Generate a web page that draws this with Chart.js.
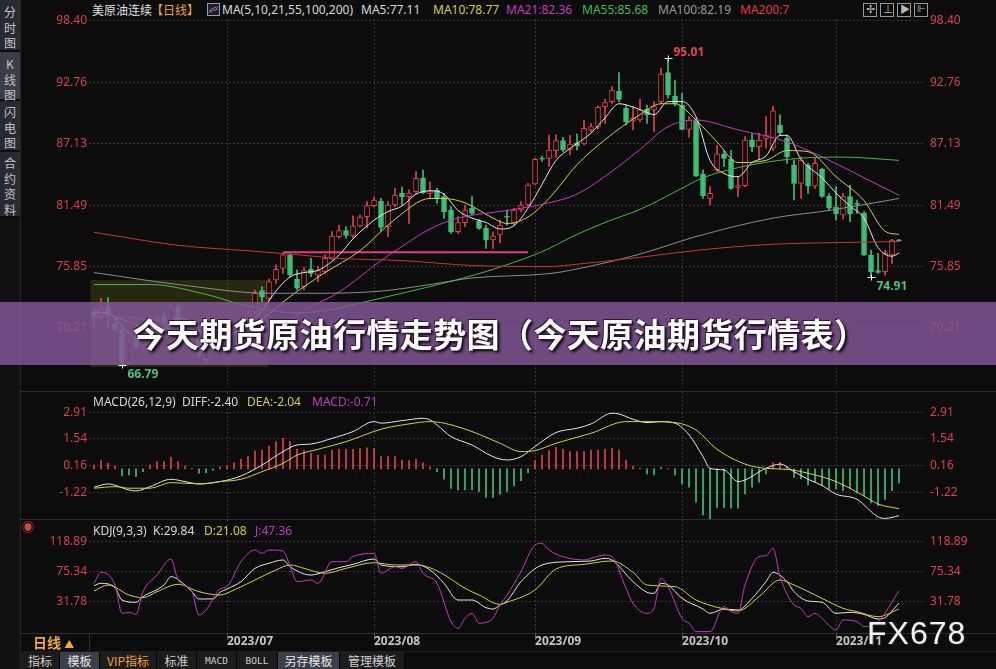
<!DOCTYPE html>
<html>
<head>
<meta charset="utf-8">
<title>美原油连续 日线</title>
<script src="https://cdn.jsdelivr.net/npm/chart.js@4.4.1/dist/chart.umd.min.js"></script>
<style>
  html, body { margin: 0; padding: 0; }
  body {
    width: 996px; height: 669px; overflow: hidden; position: relative;
    background: #0c0c0c; color: #d8d8d8;
    font-family: "Noto Sans", "Noto Sans CJK SC", sans-serif; font-size: 12px;
  }
  .abs { position: absolute; white-space: nowrap; }
  canvas { position: absolute; left: 20px; }
  #mainChart { top: 9px; }
  #macdChart { top: 392px; }
  #kdjChart { top: 520px; }
  .hline { position: absolute; height: 1px; background: #2e2e2e; }
  .vline { position: absolute; width: 1px; background: #2e2e2e; }
  .side { position: absolute; left: 0; width: 20px; background: #272a30; color: #c4c4c4;
          font-family: "Noto Sans CJK SC", sans-serif; font-size: 12px; line-height: 15.5px; text-align: center; }
  .side.on { background: #3a3e46; }
  .hdr { position: absolute; top: 1px; line-height: 17px; white-space: nowrap; }
  .sub { position: absolute; line-height: 15px; white-space: nowrap; }
  .tab { position: absolute; top: 652px; height: 17px; line-height: 17px; text-align: center;
         font-family: "Noto Sans CJK SC", sans-serif; font-size: 12px; color: #cfcfcf;
         border-right: 1px solid #050505; background: #1c1c1c; }
  .tab.sel { background: #3b3f4a; color: #e6e6e6; }
  .tab.mono { font-family: "DejaVu Sans Mono", monospace; font-size: 9.5px; }
  .ico { position: absolute; top: 3px; width: 12px; height: 12px; border: 1px solid #9a9a9a; }
  #banner { position: absolute; left: 0; top: 302px; width: 996px; height: 63px;
            background: rgba(129, 86, 149, 0.85); color: #fff; text-align: center;
            font-family: "Noto Sans CJK SC", sans-serif; font-weight: bold; font-size: 33px;
            line-height: 63px; letter-spacing: 0.4px; padding-left: 4px; box-sizing: border-box;
            text-shadow: 1px 1px 0 #2a1a30, -1px -1px 0 #2a1a30, 2px 2px 3px #000; }
  #wm { position: absolute; left: 867px; top: 617px; font-family: "Liberation Sans", sans-serif;
        font-size: 32px; line-height: 32px; letter-spacing: 1px; color: #f2f2f2;
        text-shadow: 0 0 2px #333, 1px 1px 1px #222; }
</style>
</head>
<body>

<!-- left tool strip -->
<div class="side" style="top:0;height:50px;padding-top:4px;box-sizing:border-box;">分<br>时<br>图</div>
<div class="side on" style="top:52px;height:47px;padding-top:4px;box-sizing:border-box;">K<br>线<br>图</div>
<div class="side" style="top:101px;height:49px;padding-top:3px;box-sizing:border-box;">闪<br>电<br>图</div>
<div class="side" style="top:152px;height:64px;padding-top:3px;box-sizing:border-box;">合<br>约<br>资<br>料</div>
<div class="side" style="top:218px;height:451px;background:#121212;"></div>
<div class="vline" style="left:20px;top:0;height:669px;background:#262626;"></div>

<!-- header of price panel -->
<span class="hdr" style="left:92px;color:#e0e0e0;font-family:'Noto Sans CJK SC',sans-serif;">美原油连续</span>
<span class="hdr" style="left:151px;color:#eaa43a;font-family:'Noto Sans CJK SC',sans-serif;">【日线】</span>
<svg class="abs" style="left:207px;top:3px;" width="13" height="13">
  <rect x="0.5" y="0.5" width="12" height="12" fill="#1c1c2a" stroke="#9a9ab0"/>
  <polyline points="2,10 5,5 8,8 11,3" fill="none" stroke="#e04a4a" stroke-width="1"/>
  <polyline points="2,7 5,9 8,4 11,7" fill="none" stroke="#5a7ae0" stroke-width="1"/>
</svg>
<span class="hdr" style="left:222px;color:#d8d8d8;">MA(5,10,21,55,100,200)</span>
<span class="hdr" style="left:361px;color:#d8d8d8;">MA5:77.11</span>
<span class="hdr" style="left:433px;color:#cfcf3a;">MA10:78.77</span>
<span class="hdr" style="left:506px;color:#c23ac2;">MA21:82.36</span>
<span class="hdr" style="left:582px;color:#3cbf50;">MA55:85.68</span>
<span class="hdr" style="left:658px;color:#9a9a9a;">MA100:82.19</span>
<span class="hdr" style="left:740px;color:#e03c3c;">MA200:7</span>
<div class="ico" style="left:863px;"></div>
<div class="ico" style="left:880px;"></div>
<div class="ico" style="left:897px;"></div>
<div class="ico" style="left:914px;"></div>
<span class="abs" style="left:866px;top:1px;color:#bbb;font-size:11px;">✢</span>
<span class="abs" style="left:883px;top:1px;color:#bbb;font-size:10px;">⊥</span>
<span class="abs" style="left:900px;top:1px;color:#bbb;font-size:10px;">▶</span>
<span class="abs" style="left:917px;top:1px;color:#bbb;font-size:10px;">⊩</span>

<canvas id="mainChart" width="976" height="379"></canvas>
<canvas id="macdChart" width="976" height="127"></canvas>
<canvas id="kdjChart" width="976" height="130"></canvas>

<div class="hline" style="left:20px;top:391px;width:976px;"></div>
<div class="hline" style="left:20px;top:519px;width:976px;"></div>
<div class="hline" style="left:20px;top:633px;width:976px;"></div>
<div class="vline" style="left:89px;top:633px;height:19px;"></div>

<!-- sub panel headers -->
<span class="sub" style="left:93px;top:394px;color:#d8d8d8;">MACD(26,12,9)</span>
<span class="sub" style="left:182px;top:394px;color:#d8d8d8;">DIFF:-2.40</span>
<span class="sub" style="left:247px;top:394px;color:#cfcf3a;">DEA:-2.04</span>
<span class="sub" style="left:312px;top:394px;color:#c23ac2;">MACD:-0.71</span>
<span class="abs" style="left:22px;top:518px;color:#d04444;font-size:12px;">◉</span>
<span class="sub" style="left:93px;top:523px;color:#d8d8d8;">KDJ(9,3,3)</span>
<span class="sub" style="left:153px;top:523px;color:#d8d8d8;">K:29.84</span>
<span class="sub" style="left:204px;top:523px;color:#cfcf3a;">D:21.08</span>
<span class="sub" style="left:255px;top:523px;color:#c23ac2;">J:47.36</span>

<!-- period selector and tab bar -->
<span class="abs" style="left:33px;top:633px;color:#f0a838;font-family:'Noto Sans CJK SC',sans-serif;font-size:14px;font-weight:bold;line-height:19px;">日线 <span style="font-size:10px;">▲</span></span>
<div class="hline" style="left:20px;top:651px;width:976px;background:#1a1a1a;"></div>
<div class="tab" style="left:21px;width:38px;">指标</div>
<div class="tab sel" style="left:60px;width:39px;">模板</div>
<div class="tab" style="left:100px;width:56px;color:#f0a030;">VIP指标</div>
<div class="tab" style="left:157px;width:39px;">标准</div>
<div class="tab mono" style="left:197px;width:39px;">MACD</div>
<div class="tab mono" style="left:237px;width:40px;">BOLL</div>
<div class="tab sel" style="left:278px;width:61px;">另存模板</div>
<div class="tab" style="left:340px;width:64px;">管理模板</div>

<div id="banner">今天期货原油行情走势图（今天原油期货行情表）</div>
<div id="wm">FX678</div>

<script>
// candle index 0 is the first daily bar (early June 2023)
const opens = [
  71.65, 71.25, 72.10, 70.64, 70.03, 67.02, 69.11, 68.65, 70.33, 70.90,
  71.19, 70.79, 72.17, 70.64, 69.41, 69.17, 67.30, 69.11, 69.57, 70.18,
  69.80, 70.40, 71.10, 71.71, 73.64, 72.93, 74.62, 75.69, 76.92, 74.70,
  74.00, 75.60, 75.08, 75.38, 76.52, 78.60, 79.15, 78.66, 79.58, 80.44,
  81.45, 81.84, 79.51, 81.50, 82.57, 82.27, 82.73, 83.95, 82.57, 82.88,
  82.27, 81.04, 79.05, 79.88, 81.20, 80.03, 79.36, 78.29, 78.75, 80.45,
  79.82, 81.04, 81.50, 83.43, 85.80, 85.79, 86.49, 87.41, 86.60, 87.16,
  87.10, 88.39, 88.70, 90.53, 90.99, 91.97, 90.38, 89.22, 89.31, 90.29,
  90.23, 90.99, 93.65, 91.51, 90.68, 88.45, 89.25, 84.35, 82.11, 84.72,
  86.19, 85.70, 83.12, 83.28, 87.47, 86.86, 87.62, 86.71, 88.85, 87.62,
  85.17, 83.49, 85.17, 83.25, 84.78, 82.33, 81.29, 80.58, 82.27, 81.62,
  80.74, 76.91, 75.47, 75.38, 76.91, 78.30
];
const highs = [
  72.02, 72.93, 73.00, 71.00, 70.30, 69.20, 69.60, 69.90, 71.30, 71.30,
  71.60, 72.30, 72.50, 71.00, 70.30, 69.50, 69.30, 69.80, 70.60, 70.50,
  70.30, 71.20, 71.90, 73.70, 74.00, 74.70, 76.00, 77.07, 77.00, 75.54,
  75.78, 76.61, 75.84, 76.92, 79.06, 79.67, 79.52, 80.50, 80.59, 81.81,
  82.20, 82.12, 81.81, 83.03, 83.18, 82.89, 84.56, 84.71, 83.64, 83.03,
  82.57, 81.35, 80.43, 81.50, 82.27, 80.18, 79.66, 79.05, 80.12, 81.04,
  81.20, 81.81, 83.49, 85.79, 86.00, 87.93, 87.93, 87.71, 87.90, 88.02,
  89.31, 89.00, 90.60, 91.20, 92.37, 93.65, 90.68, 90.53, 91.20, 90.68,
  90.99, 94.05, 95.01, 92.98, 91.76, 89.61, 89.46, 84.72, 83.19, 87.01,
  86.52, 86.52, 84.10, 87.78, 88.08, 88.08, 89.61, 90.59, 89.77, 87.93,
  85.63, 85.94, 85.33, 85.79, 84.87, 82.57, 83.19, 82.57, 83.34, 81.96,
  80.89, 77.37, 77.06, 77.37, 78.35, 78.35
];
const lows = [
  70.33, 70.94, 70.20, 69.90, 66.79, 66.90, 68.20, 68.30, 70.00, 70.60,
  70.40, 70.50, 70.60, 69.50, 69.10, 67.50, 67.00, 68.90, 69.30, 69.40,
  69.60, 70.20, 70.90, 71.50, 72.60, 72.70, 74.31, 75.23, 74.93, 73.70,
  73.70, 74.93, 74.47, 75.23, 76.46, 78.45, 78.45, 78.45, 79.50, 79.40,
  81.35, 79.10, 78.60, 81.35, 81.50, 79.82, 82.58, 82.57, 82.11, 81.65,
  80.28, 78.90, 78.90, 79.51, 80.58, 79.27, 77.52, 77.52, 78.04, 79.66,
  79.66, 80.90, 81.35, 83.34, 85.50, 85.02, 85.88, 86.40, 86.10, 86.55,
  87.01, 88.20, 88.50, 89.00, 90.84, 90.99, 88.85, 88.39, 89.15, 89.00,
  88.24, 90.84, 91.30, 90.59, 88.39, 87.72, 84.10, 82.11, 81.50, 84.56,
  85.02, 82.94, 82.27, 83.19, 86.40, 85.63, 86.71, 86.50, 87.93, 85.33,
  81.96, 82.11, 82.57, 83.03, 82.20, 81.04, 80.12, 80.19, 79.97, 80.74,
  76.85, 74.91, 75.23, 75.07, 76.14, 78.15
];
const closes = [
  71.19, 72.02, 71.50, 70.09, 67.12, 68.96, 68.49, 69.41, 70.94, 71.10,
  70.64, 72.02, 70.94, 69.72, 70.03, 67.73, 68.80, 69.41, 70.33, 69.72,
  70.10, 71.00, 71.56, 73.39, 73.03, 74.46, 75.60, 76.92, 75.08, 73.86,
  75.48, 75.23, 75.48, 76.61, 78.66, 79.15, 78.72, 79.58, 80.40, 81.45,
  81.96, 79.45, 81.50, 82.42, 82.27, 82.60, 83.95, 82.63, 82.82, 82.11,
  80.89, 79.05, 79.88, 81.04, 80.74, 79.36, 78.29, 78.65, 79.66, 80.38,
  81.04, 81.50, 83.34, 85.70, 85.70, 86.55, 87.41, 86.55, 87.10, 86.92,
  88.54, 88.70, 90.47, 90.90, 92.06, 91.20, 89.15, 89.46, 90.23, 89.77,
  90.53, 93.53, 91.60, 90.84, 88.45, 89.31, 84.17, 82.33, 82.57, 86.19,
  85.79, 83.03, 83.28, 87.47, 86.86, 87.47, 87.93, 90.16, 88.14, 85.94,
  83.49, 85.63, 83.25, 85.33, 82.30, 81.20, 80.68, 82.27, 80.68, 81.56,
  76.91, 75.38, 75.32, 77.06, 78.29, 78.20
];

const monthIdx = [19, 40, 63, 84, 106];
const monthLabels = ['2023/07', '2023/08', '2023/09', '2023/10', '2023/11'];

const priceTicks = [70.21, 75.85, 81.49, 87.13, 92.76, 98.40];
const macdTicks = [-1.22, 0.16, 1.54, 2.91];
const kdjTicks = [31.78, 75.34, 118.89];

// moving averages as [candle index, value]
const ma5 = [[0,71.6],[2,71.6],[4,70.4],[6,69.2],[8,69.0],[10,70.1],[12,71.1],[14,70.7],[16,69.4],[18,69.2],
  [20,69.7],[22,70.5],[24,71.8],[26,73.6],[28,74.9],[30,75.3],[32,75.5],[35,76.9],[37,78.4],[40,80.1],
  [42,80.9],[44,81.4],[46,82.5],[48,82.8],[50,82.5],[52,81.0],[54,80.3],[56,79.9],[58,79.3],[60,79.6],
  [62,81.2],[64,83.4],[66,85.6],[68,86.7],[71,88.1],[73,89.5],[75,90.8],[77,90.5],[79,90.0],[80,89.8],
  [82,91.0],[84,91.0],[86,89.6],[88,85.6],[90,84.4],[92,84.1],[94,85.4],[96,86.0],[98,87.9],[99,87.9],
  [101,85.7],[104,84.0],[106,82.6],[108,81.4],[110,80.3],[112,77.6],[114,76.8],[115,77.1]];
const ma10 = [[0,71.9],[4,71.0],[9,70.1],[14,70.4],[19,69.8],[24,71.0],[27,72.6],[30,74.0],[33,75.3],[38,77.3],
  [43,80.2],[48,82.1],[50,82.1],[53,81.7],[57,80.3],[59,79.8],[62,80.4],[65,82.1],[69,85.2],[73,87.5],
  [78,89.8],[81,90.8],[83,90.8],[86,89.3],[89,87.3],[92,85.4],[96,85.6],[99,86.5],[102,86.4],[106,84.1],
  [110,81.9],[113,79.1],[115,78.8]];
const ma21 = [[0,71.4],[6,71.1],[12,70.6],[18,70.0],[24,70.3],[28,70.9],[30,71.8],[35,73.5],[41,76.4],[44,77.7],
  [48,79.3],[52,80.3],[59,81.0],[65,81.7],[69,82.5],[74,84.6],[78,86.6],[82,88.7],[86,89.3],[92,88.4],
  [99,87.3],[106,85.3],[110,84.0],[115,82.4]];
const ma55 = [[0,74.2],[8,74.2],[16,73.3],[22,72.2],[29,71.6],[34,71.9],[38,72.5],[44,73.4],[51,74.5],[58,75.8],
  [65,77.5],[68,78.5],[73,79.9],[78,81.1],[83,82.7],[87,84.0],[94,85.2],[101,85.8],[107,85.9],[115,85.6]];
const ma100 = [[0,75.3],[12,74.2],[25,73.4],[33,73.4],[41,73.6],[48,74.2],[54,74.8],[65,75.2],[68,75.5],[78,77.0],
  [86,78.6],[97,80.3],[105,81.0],[115,82.1]];
const ma200 = [[0,79.0],[12,77.8],[22,77.3],[28,77.0],[35,76.6],[44,76.4],[54,75.95],[65,75.85],[68,76.0],[78,76.7],
  [87,77.4],[97,77.9],[106,78.05],[115,78.15]];

// MACD histogram, one bar per candle
const macdBars = [
  0.21, 0.43, 0.29, 0.15, -0.36, -0.31, -0.39, -0.14, 0.21, 0.38,
  0.38, 0.60, 0.38, 0.15, 0.03, -0.22, -0.19, -0.08, 0.11, 0.15,
  0.32, 0.49, 0.63, 0.92, 0.97, 1.18, 1.40, 1.57, 1.40, 1.01,
  0.94, 0.80, 0.71, 0.71, 0.97, 1.01, 1.01, 1.01, 1.04, 1.08,
  1.06, 0.63, 0.63, 0.63, 0.46, 0.43, 0.49, 0.32, 0.11, -0.14,
  -0.53, -1.00, -1.08, -1.08, -1.08, -1.16, -1.46, -1.46, -1.29, -1.16,
  -0.87, -0.60, -0.19, 0.43, 0.71, 0.94, 1.11, 1.01, 0.89, 0.89,
  0.89, 0.97, 0.97, 1.01, 1.06, 0.97, 0.46, 0.15, 0.05, -0.26,
  -0.31, 0.09, 0.02, -0.31, -0.77, -0.94, -1.71, -2.36, -2.57, -1.97,
  -1.97, -2.02, -2.02, -1.28, -0.94, -0.68, -0.26, 0.31, 0.34, 0.14,
  -0.43, -0.51, -0.82, -0.65, -0.86, -1.03, -1.03, -1.11, -1.03, -1.23,
  -1.37, -1.75, -1.88, -1.57, -1.11, -0.72
];
const diffLine = [[0,-0.94],[2,-0.77],[5,-1.08],[6,-1.13],[8,-0.91],[11,-0.53],[13,-0.65],[15,-0.77],[18,-0.65],[21,-0.36],
  [24,0.20],[27,0.89],[29,1.23],[31,1.28],[34,1.57],[37,1.92],[40,2.43],[41,2.35],[44,2.48],[47,2.60],
  [48,2.52],[49,2.26],[51,1.66],[54,1.23],[57,0.63],[59,0.46],[61,0.63],[63,1.15],[66,1.87],[69,2.09],
  [71,2.31],[74,2.86],[75,2.82],[77,2.55],[79,2.38],[81,2.43],[83,2.35],[85,1.75],[87,0.63],[88,0.03],
  [90,-0.05],[92,-0.65],[96,0.03],[98,0.25],[100,-0.14],[102,-0.53],[104,-0.85],[106,-1.29],[109,-1.56],[112,-2.46],
  [113,-2.54],[115,-2.40]];
const deaLine = [[0,-0.99],[3,-0.91],[5,-0.99],[8,-0.99],[11,-0.70],[15,-0.77],[18,-0.65],[21,-0.53],[24,-0.14],[27,0.29],
  [29,0.71],[32,1.01],[36,1.40],[41,2.04],[45,2.31],[48,2.43],[50,2.35],[54,1.92],[58,1.32],[61,0.89],
  [63,0.94],[66,1.32],[71,1.83],[76,2.43],[79,2.43],[83,2.38],[86,2.00],[89,1.01],[93,0.25],[96,0.03],
  [99,-0.02],[102,-0.22],[106,-0.65],[110,-1.39],[112,-1.80],[115,-2.04]];

// KDJ lines
const kLine = [[0,55.1],[1,58.4],[3,52.2],[4,34.2],[6,30.9],[7,39.1],[10,56.0],[11,68.1],[13,56.0],[14,46.3],
  [15,35.7],[17,35.7],[18,45.4],[19,50.2],[21,60.9],[23,80.2],[25,87.5],[27,92.3],[28,82.6],[31,70.5],
  [33,75.4],[35,81.2],[37,86.0],[40,93.8],[41,85.1],[44,82.6],[46,86.0],[48,77.8],[50,58.4],[52,34.2],
  [54,34.2],[56,23.1],[57,21.0],[58,27.0],[59,33.0],[61,60.9],[64,85.1],[68,89.9],[71,90.9],[73,94.7],
  [74,92.3],[77,60.9],[79,45.4],[80,43.9],[81,58.4],[82,56.0],[84,36.6],[87,21.2],[88,14.9],[90,21.2],
  [92,19.7],[94,36.6],[96,60.9],[97,74.4],[99,60.9],[100,46.3],[102,32.8],[104,30.9],[106,14.9],[108,16.3],
  [110,13.4],[112,6.6],[113,8.6],[115,29.8]];
const dLine = [[0,47.3],[2,56.0],[5,41.5],[7,37.6],[9,46.3],[12,57.0],[15,46.3],[18,41.5],[20,48.8],[23,63.3],
  [26,77.8],[28,85.1],[30,80.2],[33,73.0],[36,80.2],[40,88.4],[43,85.1],[46,85.1],[48,81.0],[50,71.0],
  [53,51.2],[55,41.5],[58,27.9],[59,30.9],[63,48.8],[66,79.2],[70,86.0],[74,90.9],[77,74.4],[79,56.0],
  [83,53.6],[86,34.2],[90,21.2],[92,18.3],[95,39.1],[98,63.3],[100,56.0],[104,36.6],[107,22.1],[109,17.3],
  [112,10.0],[115,21.1]];
const jLine = [[0,58.4],[1,74.4],[3,56.0],[4,14.9],[5,16.3],[6,13.4],[7,46.3],[9,70.5],[11,93.8],[12,63.3],
  [14,46.3],[15,12.5],[16,19.7],[18,50.2],[19,53.6],[21,89.9],[23,106.8],[24,102.0],[25,106.8],[27,105.4],
  [28,84.1],[29,60.9],[31,63.3],[32,58.4],[34,89.9],[36,89.9],[37,97.2],[40,102.0],[41,73.0],[43,82.6],
  [44,80.2],[46,89.9],[47,73.0],[49,58.4],[51,2.8],[52,-6.9],[53,7.6],[54,14.9],[55,0.4],[56,1.8],
  [57,7.6],[58,27.0],[59,41.5],[61,75.4],[63,114.1],[64,116.5],[65,106.8],[67,97.2],[70,92.3],[71,94.7],
  [73,99.6],[74,97.2],[76,51.2],[77,29.4],[79,14.9],[80,22.1],[81,65.7],[82,53.6],[84,7.6],[85,0.4],
  [86,-11.7],[88,-11.7],[90,24.6],[91,17.3],[92,14.9],[93,56.0],[95,97.2],[96,98.6],[97,109.3],[98,68.1],
  [100,27.0],[101,22.1],[102,10.0],[103,14.9],[104,7.6],[106,-9.3],[107,5.2],[109,2.8],[110,-4.5],[112,2.8],
  [115,47.4]];

// objects drawn on the price panel
const highlightBox = [-0.5, 24.9, 66.63, 74.62];   // index from, index to, price low, price high
const trendLine = [[27, 77.16], [62, 77.16]];
const highMarks = [82];        // candles whose high is labelled
const lowMarks = [4, 111];     // candles whose low is labelled

const UP = '#e2414b', DOWN = '#3dbf77', BG = '#0c0c0c';
const WHITE = '#e6e6e6', YELLOW = '#d2d040', MAGENTA = '#c03cc0';

Chart.defaults.font.family = '"Noto Sans", "Noto Sans CJK SC", sans-serif';
Chart.defaults.font.size = 12;

const idx = closes.map((_, i) => i);
const isUp = i => closes[i] >= opens[i];
const pts = pairs => pairs.map(([x, y]) => ({ x, y }));

// keep the plot area exactly where the panels are: no label padding
function noPad(s) {
  s.paddingTop = 0; s.paddingBottom = 0; s.paddingLeft = 0; s.paddingRight = 0;
}

function xAxis(labels) {
  return {
    type: 'linear', min: -0.714, max: 118.71, offset: false,
    afterBuildTicks: s => { s.ticks = monthIdx.map(v => ({ value: v })); },
    afterFit: s => { s.height = labels ? 17 : 0; noPad(s); },
    grid: { offset: false, color: '#363636', drawTicks: labels, tickLength: 7, tickColor: '#5a5a5a' },
    border: { display: false, dash: [2, 2] },
    ticks: {
      display: labels, autoSkip: false, maxRotation: 0, align: 'start', padding: -6,
      color: '#c4c4c4', font: { size: 12, weight: 'bold' },
      callback: (v, i) => monthLabels[i]
    }
  };
}

function yAxis(pos, min, max, ticks) {
  const left = pos === 'left';
  return {
    type: 'linear', position: pos, min, max, beginAtZero: false,
    afterBuildTicks: s => { s.ticks = ticks.map(v => ({ value: v })); },
    afterFit: s => { s.width = left ? 69 : 71; noPad(s); },
    grid: { display: left, color: '#363636', drawTicks: false },
    border: { display: false, dash: [2, 2] },
    ticks: { color: '#d8404b', padding: left ? 2 : 5, autoSkip: false, callback: v => v.toFixed(2) }
  };
}

function line(pairs, color, width) {
  return {
    type: 'line', data: pts(pairs), borderColor: color, borderWidth: width || 1,
    pointRadius: 0, cubicInterpolationMode: 'monotone', order: 2
  };
}

function options(scales, padTop) {
  return {
    responsive: false, animation: false, devicePixelRatio: 1,
    layout: { padding: { top: padTop || 0 } },
    plugins: { legend: { display: false }, tooltip: { enabled: false } },
    scales
  };
}

const boxPlugin = {
  id: 'box',
  beforeDatasetsDraw(chart) {
    const { ctx, scales: { x, y } } = chart;
    const [i0, i1, p0, p1] = highlightBox;
    const left = x.getPixelForValue(i0), top = y.getPixelForValue(p1);
    ctx.save();
    ctx.fillStyle = 'rgba(105, 105, 25, 0.3)';
    ctx.fillRect(left, top, x.getPixelForValue(i1) - left, y.getPixelForValue(p0) - top);
    ctx.restore();
  }
};

const markPlugin = {
  id: 'marks',
  afterDatasetsDraw(chart) {
    const { ctx, scales: { x, y } } = chart;
    const mark = (i, price, color, dy) => {
      const px = Math.round(x.getPixelForValue(i)) + 0.5;
      const py = Math.round(y.getPixelForValue(price)) + 0.5;
      ctx.strokeStyle = '#f0f0f0';
      ctx.lineWidth = 1;
      ctx.beginPath();
      ctx.moveTo(px - 4, py); ctx.lineTo(px + 4, py);
      ctx.moveTo(px, py - 3); ctx.lineTo(px, py + 3);
      ctx.stroke();
      ctx.fillStyle = color;
      ctx.font = 'bold 12px "Noto Sans", sans-serif';
      ctx.textBaseline = 'middle';
      ctx.textAlign = 'left';
      ctx.fillText(price.toFixed(2), px + 5, py + dy);
    };
    ctx.save();
    highMarks.forEach(i => mark(i, highs[i], '#e8434f', -6));
    lowMarks.forEach(i => mark(i, lows[i], '#4cc27b', 9));
    ctx.restore();
  }
};

// price panel (canvas starts 10px above the plot so the top tick label is not clipped)
new Chart(document.getElementById('mainChart'), {
  type: 'bar',
  data: {
    datasets: [
      {
        label: 'wick', data: idx.map(i => ({ x: i, y: [lows[i], highs[i]] })),
        backgroundColor: idx.map(i => isUp(i) ? UP : DOWN),
        barThickness: 1, grouped: false, borderWidth: 0, order: 20
      },
      {
        label: 'body', data: idx.map(i => ({ x: i, y: [opens[i], closes[i]] })),
        backgroundColor: idx.map(i => isUp(i) ? BG : DOWN),
        borderColor: idx.map(i => isUp(i) ? UP : DOWN),
        borderWidth: 1, borderSkipped: false, barThickness: 5, minBarLength: 1,
        grouped: false, order: 19
      },
      Object.assign(line(trendLine, '#dc3f86', 2), { cubicInterpolationMode: 'default', order: 8 }),
      line(ma200, '#c83434'),
      line(ma100, '#8c8c8c'),
      line(ma55, '#44b844'),
      line(ma21, MAGENTA),
      line(ma10, YELLOW),
      line(ma5, WHITE)
    ]
  },
  options: options({
    x: xAxis(false),
    y: yAxis('left', 64.70, 98.58, priceTicks),
    y2: yAxis('right', 64.70, 98.58, priceTicks)
  }, 10),
  plugins: [boxPlugin, markPlugin]
});

// MACD panel
new Chart(document.getElementById('macdChart'), {
  type: 'bar',
  data: {
    datasets: [
      {
        label: 'MACD', data: idx.map(i => ({ x: i, y: macdBars[i] })),
        backgroundColor: macdBars.map(v => v >= 0 ? UP : DOWN),
        barThickness: 1, grouped: false, borderWidth: 0, order: 20
      },
      line(deaLine, YELLOW),
      line(diffLine, WHITE)
    ]
  },
  options: options({
    x: xAxis(false),
    y: yAxis('left', -2.57, 3.95, macdTicks),
    y2: yAxis('right', -2.57, 3.95, macdTicks)
  })
});

// KDJ panel with the date axis
new Chart(document.getElementById('kdjChart'), {
  type: 'line',
  data: {
    datasets: [
      line(jLine, MAGENTA),
      line(dLine, YELLOW),
      line(kLine, WHITE)
    ]
  },
  options: options({
    x: xAxis(true),
    y: yAxis('left', -13.7, 150.4, kdjTicks),
    y2: yAxis('right', -13.7, 150.4, kdjTicks)
  })
});
</script>
</body>
</html>
